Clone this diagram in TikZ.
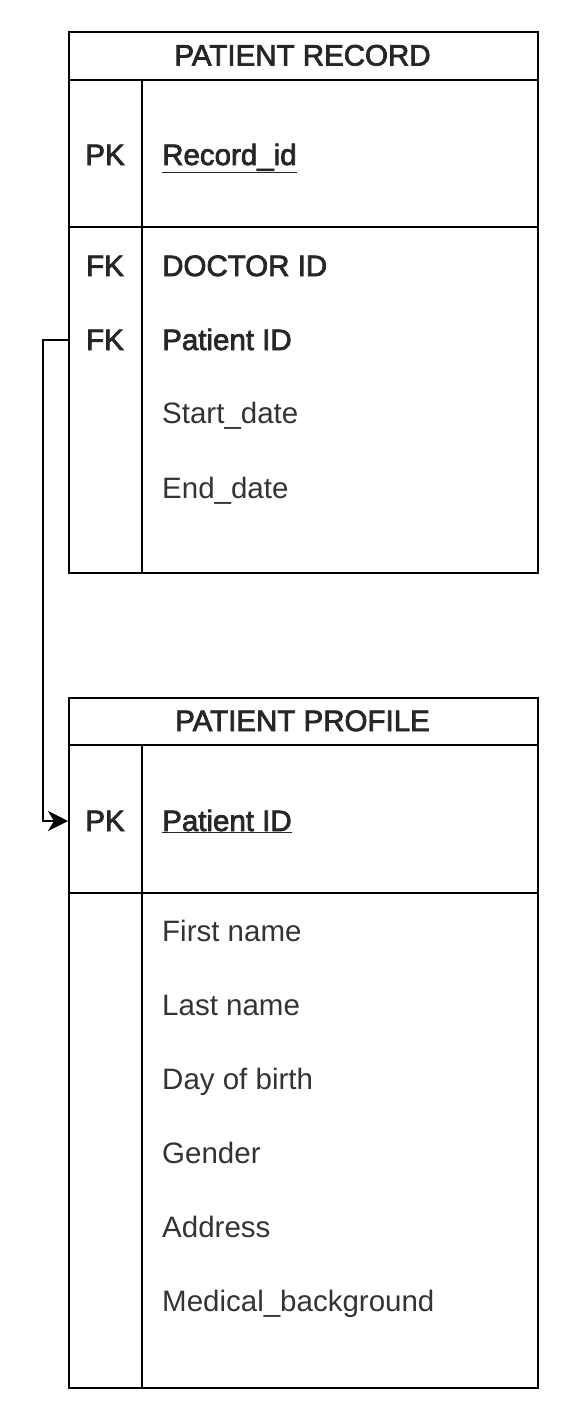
\documentclass[tikz,border=0pt]{standalone}
\usepackage{fontspec}
\setmainfont{Liberation Sans}
\newfontfamily\semib[FakeBold=2.5]{Liberation Sans}
\usetikzlibrary{arrows.meta}
\begin{document}
\begin{tikzpicture}[x=1pt,y=-1pt,
  box/.style={draw, line width=2pt, anchor=north west, inner sep=0pt},
  rule/.style={line width=2pt},
  hdr/.style={font=\fontsize{29.5}{33}\selectfont\semib, text=black!85, anchor=base},
  key/.style={font=\fontsize{29.5}{33}\selectfont\semib, text=black!85, anchor=base, inner sep=0pt},
  fld/.style={font=\fontsize{29.5}{33}\selectfont, text=black!80, anchor=base west, inner sep=0pt},
  kfld/.style={font=\fontsize{29.5}{33}\selectfont\semib, text=black!85, anchor=base west, inner sep=0pt},
  conn/.style={line width=2pt, -{Stealth[length=20pt,width=20pt,inset=6pt]}}]
\useasboundingbox (0,0) rectangle (583,1418);
% Table 1
\node[box, minimum width=469pt, minimum height=541pt] (t1) at (68,31) {};
\draw[rule] (68,80) -- (537,80);
\draw[rule] (68,227) -- (537,227);
\draw[rule] (142,80) -- (142,572);
\node[hdr, inner sep=0pt] (t1h) at (302.5,65.5) {PATIENT RECORD};
\node[key] (t1pk) at (105,165) {PK};
\node[kfld] (t1f0) at (162,165) {\underline{Record\_id}};
\node[key] (t1fk1) at (105,276) {FK};
\node[kfld] (t1f1) at (162,276) {DOCTOR ID};
\node[key] (t1fk2) at (105,350) {FK};
\node[kfld] (t1f2) at (162,350) {Patient ID};
\node[fld] (t1f3) at (162,423) {Start\_date};
\node[fld] (t1f4) at (162,498) {End\_date};
% Table 2
\node[box, minimum width=469pt, minimum height=690pt] (t2) at (68,697) {};
\draw[rule] (68,745) -- (537,745);
\draw[rule] (68,893) -- (537,893);
\draw[rule] (142,745) -- (142,1387);
\node[hdr, inner sep=0pt] (t2h) at (302.5,731) {PATIENT PROFILE};
\node[key] (t2pk) at (105,831) {PK};
\node[kfld] (t2f0) at (162,831) {\underline{Patient ID}};
\node[fld] (t2f1) at (162,941) {First name};
\node[fld] (t2f2) at (162,1015) {Last name};
\node[fld] (t2f3) at (162,1089) {Day of birth};
\node[fld] (t2f4) at (162,1163) {Gender};
\node[fld] (t2f5) at (162,1237) {Address};
\node[fld] (t2f6) at (162,1311) {Medical\_background};
% connector
\coordinate (src) at (68,340);
\coordinate (dst) at (68,821);
\draw[conn] (src) -- ++(-25,0) |- (dst);
\end{tikzpicture}
\end{document}
